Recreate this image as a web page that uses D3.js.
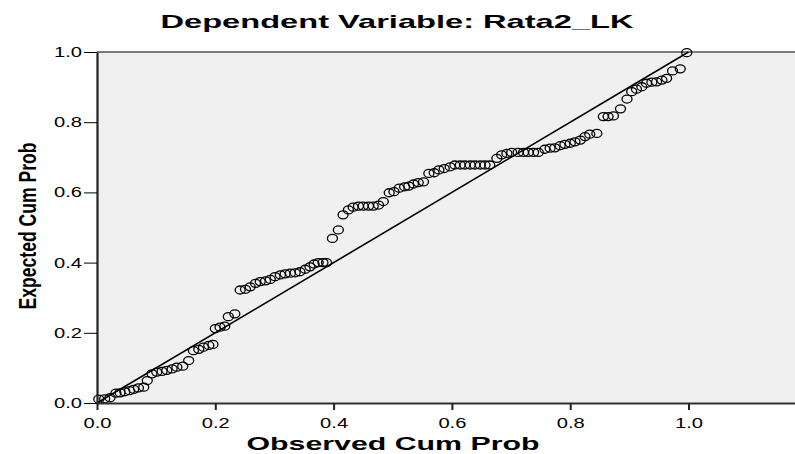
<!DOCTYPE html>
<html><head><meta charset="utf-8">
<script src="https://cdn.jsdelivr.net/npm/d3@7"></script>
<style>body{margin:0;background:#fff}svg{display:block}text{font-family:"Liberation Sans",Arial,sans-serif}</style>
</head><body>
<svg id="c" width="795" height="454"></svg>
<script>
const titleText = "Dependent Variable: Rata2_LK";
const xTitle = "Observed Cum Prob";
const yTitle = "Expected Cum Prob";
const tickValues = [0, 0.2, 0.4, 0.6, 0.8, 1.0];
const tickLabels = ["0.0", "0.2", "0.4", "0.6", "0.8", "1.0"];
const observed = [0.003,0.013,0.022,0.032,0.039,0.047,0.055,0.062,0.070,0.079,
 0.085,0.093,0.101,0.110,0.118,0.127,0.135,0.145,0.155,0.163,
 0.172,0.180,0.189,0.196,0.200,0.208,0.216,0.222,0.233,0.242,
 0.251,0.259,0.268,0.276,0.285,0.293,0.301,0.310,0.318,0.327,
 0.335,0.343,0.352,0.360,0.367,0.374,0.382,0.388,0.398,0.408,
 0.416,0.425,0.433,0.442,0.450,0.459,0.467,0.476,0.484,0.494,
 0.502,0.511,0.520,0.527,0.535,0.543,0.552,0.561,0.570,0.578,
 0.587,0.597,0.605,0.614,0.622,0.631,0.639,0.648,0.656,0.664,
 0.676,0.684,0.693,0.701,0.712,0.721,0.729,0.738,0.746,0.757,
 0.766,0.774,0.783,0.791,0.800,0.808,0.817,0.825,0.833,0.845,
 0.856,0.864,0.873,0.885,0.896,0.904,0.912,0.921,0.929,0.938,
 0.946,0.955,0.963,0.973,0.986,0.997];
const expected = [0.011,0.012,0.015,0.028,0.029,0.032,0.035,0.039,0.043,0.045,
 0.064,0.083,0.088,0.090,0.093,0.097,0.102,0.105,0.121,0.149,
 0.153,0.159,0.164,0.167,0.212,0.216,0.219,0.246,0.254,0.322,
 0.324,0.331,0.341,0.346,0.348,0.352,0.360,0.365,0.368,0.370,
 0.371,0.374,0.381,0.388,0.396,0.400,0.400,0.400,0.469,0.493,
 0.536,0.550,0.558,0.561,0.561,0.561,0.561,0.564,0.574,0.599,
 0.602,0.612,0.616,0.618,0.624,0.628,0.630,0.654,0.656,0.664,
 0.668,0.673,0.678,0.678,0.678,0.678,0.678,0.678,0.678,0.678,
 0.697,0.707,0.711,0.714,0.714,0.714,0.714,0.714,0.714,0.723,
 0.726,0.727,0.733,0.737,0.740,0.744,0.749,0.759,0.766,0.768,
 0.816,0.816,0.818,0.838,0.866,0.887,0.894,0.901,0.911,0.914,
 0.915,0.920,0.925,0.946,0.952,0.998];
const refLine = [0, 1];

const svg = d3.select("#c");
const x = d3.scaleLinear().domain([0, 1.18]).range([97, 795]);
const y = d3.scaleLinear().domain([0, 1]).range([403, 52]);

svg.append("rect").attr("x", x(0)).attr("y", y(1))
  .attr("width", x(1.18) - x(0)).attr("height", y(0) - y(1)).attr("fill", "#f0f0f0");
svg.append("line").attr("x1", x(0)).attr("x2", x(1.18)).attr("y1", y(1)).attr("y2", y(1))
  .attr("stroke", "#000").attr("stroke-width", 1.2);

// reference line
svg.append("line").attr("x1", x(refLine[0])).attr("y1", y(refLine[0]))
  .attr("x2", x(refLine[1])).attr("y2", y(refLine[1]))
  .attr("stroke", "#000").attr("stroke-width", 1.6);

// points
svg.append("g").selectAll("ellipse").data(observed.map((o, i) => [o, expected[i]]))
  .join("ellipse").attr("cx", d => x(d[0])).attr("cy", d => y(d[1]))
  .attr("rx", 5).attr("ry", 4).attr("fill", "none").attr("stroke", "#000").attr("stroke-width", 1.3);

// x axis
const xAxis = d3.axisBottom(x).tickValues(tickValues).tickSize(7).tickSizeOuter(0).tickFormat((d, i) => tickLabels[i]);
const gx = svg.append("g").attr("transform", `translate(0,${y(0)})`).call(xAxis);
gx.select(".domain").attr("stroke", "#333").attr("stroke-width", 2.2);
gx.selectAll(".tick line").attr("stroke", "#222").attr("stroke-width", 2);
gx.selectAll(".tick text").attr("font-size", 14).attr("y", 15).attr("dy", "0.71em").attr("fill", "#000")
  .attr("textLength", 28).attr("lengthAdjust", "spacingAndGlyphs");

// y axis
const yAxis = d3.axisLeft(y).tickValues(tickValues).tickSize(13).tickSizeOuter(0).tickFormat((d, i) => tickLabels[i]);
const gy = svg.append("g").attr("transform", `translate(${x(0)},0)`).call(yAxis);
gy.select(".domain").attr("stroke", "#222").attr("stroke-width", 2.2);
gy.selectAll(".tick line").attr("stroke", "#000").attr("stroke-width", 1);
gy.selectAll(".tick text").attr("font-size", 14).attr("x", -15).attr("fill", "#000")
  .attr("textLength", 28).attr("lengthAdjust", "spacingAndGlyphs");

// titles
svg.append("text").attr("x", 397).attr("y", 28).attr("text-anchor", "middle")
  .attr("font-size", 19).attr("font-weight", "bold").attr("textLength", 473)
  .attr("lengthAdjust", "spacingAndGlyphs").text(titleText);
svg.append("text").attr("x", 393).attr("y", 450).attr("text-anchor", "middle")
  .attr("font-size", 18).attr("font-weight", "bold").attr("textLength", 293)
  .attr("lengthAdjust", "spacingAndGlyphs").text(xTitle);
svg.append("text").attr("transform", "translate(36,226) rotate(-90)").attr("text-anchor", "middle")
  .attr("font-size", 24).attr("font-weight", "bold").attr("textLength", 167)
  .attr("lengthAdjust", "spacingAndGlyphs").text(yTitle);
</script>
</body></html>
